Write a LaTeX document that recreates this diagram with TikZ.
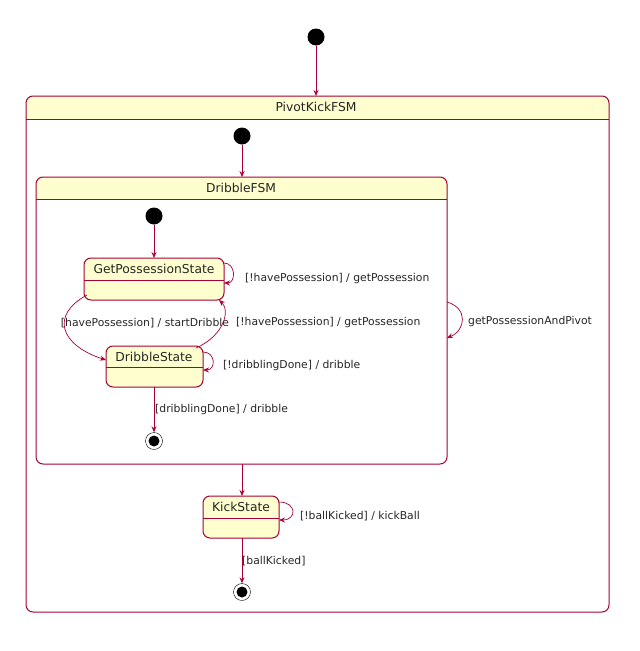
\documentclass[tikz,border=0pt]{standalone}
\usepackage{fontspec}
\setmainfont{DejaVu Sans}
\usetikzlibrary{arrows.meta}
\definecolor{bd}{HTML}{A80036}
\definecolor{fl}{HTML}{FEFECE}
\begin{document}
\begin{tikzpicture}[x=1pt,y=-1pt,
  st/.style={draw=bd,fill=fl,line width=1pt,rounded corners=7pt},
  sep/.style={draw=bd,line width=1pt},
  ini/.style={circle,fill=black,inner sep=0pt,minimum size=17pt},
  fin/.style={circle,draw=black,fill=white,inner sep=0pt,minimum size=17pt,
    path picture={\fill[black] (path picture bounding box.center) circle (5.5pt);}},
  tr/.style={draw=bd,line width=0.7pt,-{Stealth[length=6pt,width=5pt]}},
  lb/.style={font=\fontsize{10.8}{12}\selectfont,text=black!85,inner sep=1pt},
  ti/.style={font=\fontsize{12.3}{14}\selectfont,text=black!85,inner sep=0pt}]
\useasboundingbox (0,0) rectangle (640,651);
% containers
\fill[fl,rounded corners=7pt] (26,96) rectangle (609,125);
\fill[white] (26,119) rectangle (609,126);
\draw[st,fill=none] (26,96) rectangle (609,612);
\draw[sep] (26,119) -- (609,119);
\node[ti] (tP) at (316,107) {PivotKickFSM};
\fill[fl,rounded corners=7pt] (36,177) rectangle (447,205);
\fill[white] (36,199) rectangle (447,206);
\draw[st,fill=none] (36,177) rectangle (447,464);
\draw[sep] (36,199) -- (447,199);
\node[ti] (tD) at (241,188) {DribbleFSM};
\coordinate (Ptop) at (316,96);
\coordinate (Dtop) at (242,177);
\coordinate (Dbot) at (242,464);
\coordinate (Dr1) at (447,302);
\coordinate (Dr2) at (447,338);
% initials
\node[ini] (i0) at (316,37) {};
\node[ini] (i1) at (242,136) {};
\node[ini] (i2) at (154,216) {};
% states
\draw[st] (84,258) rectangle (224,300);
\draw[sep] (84,280) -- (224,280);
\node[ti] (gps) at (154,269) {GetPossessionState};
\draw[st] (106,346) rectangle (203,387);
\draw[sep] (106,367) -- (203,367);
\node[ti] (ds) at (154,357) {DribbleState};
\draw[st] (203,496) rectangle (279,538);
\draw[sep] (203,518) -- (279,518);
\node[ti] (ks) at (241,507) {KickState};
\node[fin] (f1) at (154,441) {};
\node[fin] (f2) at (242,592) {};
\coordinate (gT) at (154,258);
\coordinate (gR1) at (224,263);
\coordinate (gR2) at (224,283);
\coordinate (gL) at (87,295);
\coordinate (gBR) at (219,300);
\coordinate (dL) at (106,360);
\coordinate (dTR) at (196,348);
\coordinate (dR1) at (203,352);
\coordinate (dR2) at (203,370);
\coordinate (dB) at (154,387);
\coordinate (kT) at (242,496);
\coordinate (kR1) at (279,502);
\coordinate (kR2) at (279,520);
\coordinate (kB) at (242,538);
% transitions
\draw[tr] (i0) -- (Ptop);
\draw[tr] (i1) -- (Dtop);
\draw[tr] (i2) -- (gT);
\draw[tr] (gR1) .. controls (236,263) and (236,283) .. (gR2);
\node[lb,anchor=west] (l1) at (244,279) {[!havePossession] / getPossession};
\draw[tr] (gL) .. controls (50,315) and (60,345) .. (dL);
\node[lb] (l2) at (145,323) {[havePossession] / startDribble};
\draw[tr] (dTR) .. controls (225,335) and (230,310) .. (gBR);
\node[lb,anchor=west] (l3) at (235,323) {[!havePossession] / getPossession};
\draw[tr] (dR1) .. controls (216,352) and (216,370) .. (dR2);
\node[lb,anchor=west] (l4) at (222,366) {[!dribblingDone] / dribble};
\draw[tr] (dB) -- (f1);
\node[lb,anchor=west] (l5) at (154,410) {[dribblingDone] / dribble};
\draw[tr] (Dr1) .. controls (468,308) and (466,330) .. (Dr2);
\node[lb,anchor=west] (l6) at (467,322) {getPossessionAndPivot};
\draw[tr] (Dbot) -- (kT);
\draw[tr] (kR1) .. controls (297,502) and (297,520) .. (kR2);
\node[lb,anchor=west] (l7) at (299,516) {[!ballKicked] / kickBall};
\draw[tr] (kB) -- (f2);
\node[lb,anchor=west] (l8) at (241,561) {[ballKicked]};
\end{tikzpicture}
\end{document}
